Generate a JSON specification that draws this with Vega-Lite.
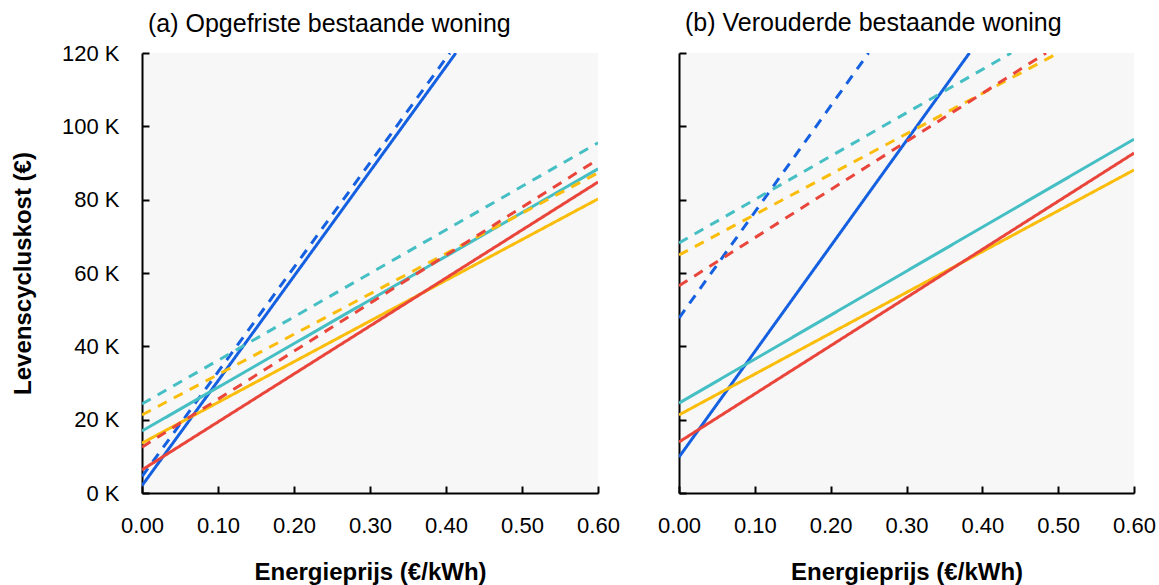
{
  "$schema": "https://vega.github.io/schema/vega-lite/v6.json",
  "padding": {"left": 11, "top": 11, "right": 2, "bottom": 2},
  "spacing": 37,
  "background": "white",
  "config": {
    "font": "Liberation Sans",
    "view": {"fill": "#f7f7f7", "stroke": null},
    "axis": {
      "domainColor": "black", "domainWidth": 2, "tickColor": "black", "tickWidth": 2, "tickSize": -7,
      "labelFont": "Liberation Sans", "labelFontSize": 22, "labelColor": "black",
      "titleFont": "Liberation Sans", "titleFontSize": 24, "titleFontWeight": "bold", "titleColor": "black",
      "grid": false
    },
    "title": {"font": "Liberation Sans", "fontSize": 25, "fontWeight": "normal", "color": "black", "anchor": "start", "frame": "group"}
  },
  "data": {"values": [
    {"panel": "a", "serie": "blauw", "stijl": "vol", "prijs": 0, "kost": 2000},
    {"panel": "a", "serie": "blauw", "stijl": "vol", "prijs": 0.413, "kost": 120000},
    {"panel": "a", "serie": "blauw", "stijl": "streep", "prijs": 0, "kost": 4500},
    {"panel": "a", "serie": "blauw", "stijl": "streep", "prijs": 0.405, "kost": 120000},
    {"panel": "a", "serie": "cyaan", "stijl": "vol", "prijs": 0, "kost": 16900},
    {"panel": "a", "serie": "cyaan", "stijl": "vol", "prijs": 0.6, "kost": 88400},
    {"panel": "a", "serie": "cyaan", "stijl": "streep", "prijs": 0, "kost": 24300},
    {"panel": "a", "serie": "cyaan", "stijl": "streep", "prijs": 0.6, "kost": 95500},
    {"panel": "a", "serie": "geel", "stijl": "vol", "prijs": 0, "kost": 13600},
    {"panel": "a", "serie": "geel", "stijl": "vol", "prijs": 0.6, "kost": 80200},
    {"panel": "a", "serie": "geel", "stijl": "streep", "prijs": 0, "kost": 21300},
    {"panel": "a", "serie": "geel", "stijl": "streep", "prijs": 0.6, "kost": 87300},
    {"panel": "a", "serie": "rood", "stijl": "vol", "prijs": 0, "kost": 6300},
    {"panel": "a", "serie": "rood", "stijl": "vol", "prijs": 0.6, "kost": 84800},
    {"panel": "a", "serie": "rood", "stijl": "streep", "prijs": 0, "kost": 12500},
    {"panel": "a", "serie": "rood", "stijl": "streep", "prijs": 0.6, "kost": 91000},
    {"panel": "b", "serie": "blauw", "stijl": "vol", "prijs": 0, "kost": 9800},
    {"panel": "b", "serie": "blauw", "stijl": "vol", "prijs": 0.383, "kost": 120000},
    {"panel": "b", "serie": "blauw", "stijl": "streep", "prijs": 0, "kost": 47700},
    {"panel": "b", "serie": "blauw", "stijl": "streep", "prijs": 0.25, "kost": 120000},
    {"panel": "b", "serie": "cyaan", "stijl": "vol", "prijs": 0, "kost": 24500},
    {"panel": "b", "serie": "cyaan", "stijl": "vol", "prijs": 0.6, "kost": 96500},
    {"panel": "b", "serie": "cyaan", "stijl": "streep", "prijs": 0, "kost": 68200},
    {"panel": "b", "serie": "cyaan", "stijl": "streep", "prijs": 0.438, "kost": 120000},
    {"panel": "b", "serie": "geel", "stijl": "vol", "prijs": 0, "kost": 21300},
    {"panel": "b", "serie": "geel", "stijl": "vol", "prijs": 0.6, "kost": 88100},
    {"panel": "b", "serie": "geel", "stijl": "streep", "prijs": 0, "kost": 64900},
    {"panel": "b", "serie": "geel", "stijl": "streep", "prijs": 0.5, "kost": 120000},
    {"panel": "b", "serie": "rood", "stijl": "vol", "prijs": 0, "kost": 13900},
    {"panel": "b", "serie": "rood", "stijl": "vol", "prijs": 0.6, "kost": 92700},
    {"panel": "b", "serie": "rood", "stijl": "streep", "prijs": 0, "kost": 56500},
    {"panel": "b", "serie": "rood", "stijl": "streep", "prijs": 0.484, "kost": 120000}
  ]},
  "hconcat": [
    {
      "width": 456, "height": 440,
      "title": {"text": "(a) Opgefriste bestaande woning", "dx": 6, "offset": 5},
      "transform": [{"filter": "datum.panel === 'a'"}],
      "mark": {"type": "line", "strokeWidth": 3, "clip": true},
      "encoding": {
        "x": {"field": "prijs", "type": "quantitative", "scale": {"domain": [0, 0.6], "nice": false},
          "axis": {"values": [0, 0.1, 0.2, 0.3, 0.4, 0.5, 0.6], "format": ".2f", "title": "Energieprijs (€/kWh)", "labelPadding": 29, "titlePadding": 24, "labelFlush": false}},
        "y": {"field": "kost", "type": "quantitative", "scale": {"domain": [0, 120000], "nice": false},
          "axis": {"values": [0, 20000, 40000, 60000, 80000, 100000, 120000], "labelExpr": "(datum.value/1000) + ' K'", "title": "Levenscycluskost  (€)", "labelPadding": 30, "titlePadding": 26, "labelFlush": false}},
        "color": {"field": "serie", "type": "nominal", "legend": null,
          "scale": {"domain": ["blauw", "cyaan", "geel", "rood"], "range": ["#1560e0", "#45bfc4", "#fbbd0b", "#e9453b"]}},
        "strokeDash": {"field": "stijl", "type": "nominal", "legend": null,
          "scale": {"domain": ["vol", "streep"], "range": [[1, 0], [10, 8]]}},
        "detail": {"field": "stijl"}
      }
    },
    {
      "width": 455, "height": 440,
      "title": {"text": "(b) Verouderde bestaande woning", "dx": 6, "offset": 16},
      "transform": [{"filter": "datum.panel === 'b'"}],
      "mark": {"type": "line", "strokeWidth": 3, "clip": true},
      "encoding": {
        "x": {"field": "prijs", "type": "quantitative", "scale": {"domain": [0, 0.6], "nice": false},
          "axis": {"values": [0, 0.1, 0.2, 0.3, 0.4, 0.5, 0.6], "format": ".2f", "title": "Energieprijs (€/kWh)", "labelPadding": 29, "titlePadding": 24, "labelFlush": false}},
        "y": {"field": "kost", "type": "quantitative", "scale": {"domain": [0, 120000], "nice": false},
          "axis": {"values": [0, 20000, 40000, 60000, 80000, 100000, 120000], "labels": false, "title": null}},
        "color": {"field": "serie", "type": "nominal", "legend": null,
          "scale": {"domain": ["blauw", "cyaan", "geel", "rood"], "range": ["#1560e0", "#45bfc4", "#fbbd0b", "#e9453b"]}},
        "strokeDash": {"field": "stijl", "type": "nominal", "legend": null,
          "scale": {"domain": ["vol", "streep"], "range": [[1, 0], [10, 8]]}},
        "detail": {"field": "stijl"}
      }
    }
  ],
  "resolve": {"scale": {"color": "shared", "strokeDash": "shared"}}
}
